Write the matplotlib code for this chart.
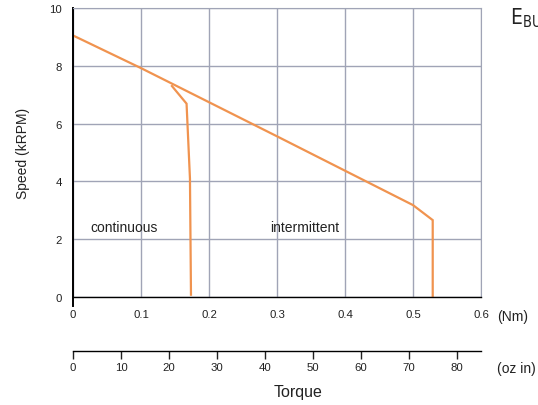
import matplotlib

matplotlib.use("Agg")
import matplotlib.pyplot as plt

# speed-torque envelope (torque in Nm, speed in kRPM)
inter_torque = [0.0, 0.1, 0.3, 0.5, 0.529, 0.529]
inter_speed = [9.05, 7.92, 5.56, 3.18, 2.66, 0.0]
cont_torque = [0.1455, 0.167, 0.172, 0.1735]
cont_speed = [7.3, 6.69, 4.1, 0.08]

nm_ticks = [0, 0.1, 0.2, 0.3, 0.4, 0.5, 0.6]
nm_labels = ["0", "0.1", "0.2", "0.3", "0.4", "0.5", "0.6"]
oz_ticks = [0, 10, 20, 30, 40, 50, 60, 70, 80]
speed_ticks = [0, 2, 4, 6, 8, 10]

NM_TO_OZIN = 141.6
ORANGE = "#f0934f"
GRID = "#a0a4b6"
TXT = "#222222"
W, H = 538, 406

plt.rcParams["font.family"] = ["Liberation Sans", "DejaVu Sans"]

fig = plt.figure(figsize=(W / 100, H / 100), dpi=100)
ax = fig.add_axes([73 / W, 1 - 298 / H, 408 / W, 289 / H])

ax.plot(inter_torque, inter_speed, color=ORANGE, lw=1.6, solid_joinstyle="miter")
ax.plot(cont_torque, cont_speed, color=ORANGE, lw=1.6, solid_joinstyle="miter")

ax.set_xlim(0, 0.6)
ax.set_ylim(0, 10)
ax.set_xticks(nm_ticks)
ax.set_xticklabels(nm_labels)
ax.set_yticks(speed_ticks)
ax.grid(True, color=GRID, lw=1)
ax.set_axisbelow(True)
ax.tick_params(axis="x", length=0, labelsize=8.2, colors=TXT, pad=9)
ax.tick_params(axis="y", length=0, labelsize=8.2, colors=TXT, pad=8)

for side in ("top", "right"):
    ax.spines[side].set_color(GRID)
ax.spines["left"].set_color("black")
ax.spines["left"].set_linewidth(1.4)
ax.spines["left"].set_bounds(-0.3, 10)
ax.spines["bottom"].set_color("black")
ax.spines["bottom"].set_linewidth(1.0)

ax.set_ylabel("Speed (kRPM)", fontsize=10, color=TXT, labelpad=14)

ax.text(0.025, 2.42, "continuous", fontsize=10, color=TXT, va="center")
ax.text(0.29, 2.42, "intermittent", fontsize=10, color=TXT, va="center")

# second torque scale in oz-in
sec = ax.secondary_xaxis(-54 / 289, functions=(lambda x: x * NM_TO_OZIN,
                                               lambda x: x / NM_TO_OZIN))
sec.set_xticks(oz_ticks)
sec.tick_params(direction="out", length=5.5, width=1, labelsize=8.2,
                colors=TXT, pad=2.5)
sec.spines["bottom"].set_linewidth(1.0)

fig.text(497 / W, 1 - 317 / H, "(Nm)", fontsize=10, color=TXT, va="center")
fig.text(497 / W, 1 - 369 / H, "(oz in)", fontsize=10, color=TXT, va="center")
fig.text(298 / W, 1 - 393 / H, "Torque", fontsize=11.5, color=TXT,
         ha="center", va="center")

# caption of the neighbouring figure, cut off by the right edge
fig.text(510 / W, 1 - 18 / H, r"E$_{\mathregular{BU}}$", fontsize=15,
         color=TXT, va="center", family="DejaVu Sans", fontstretch="condensed")

fig.savefig("out.png", dpi=100)
